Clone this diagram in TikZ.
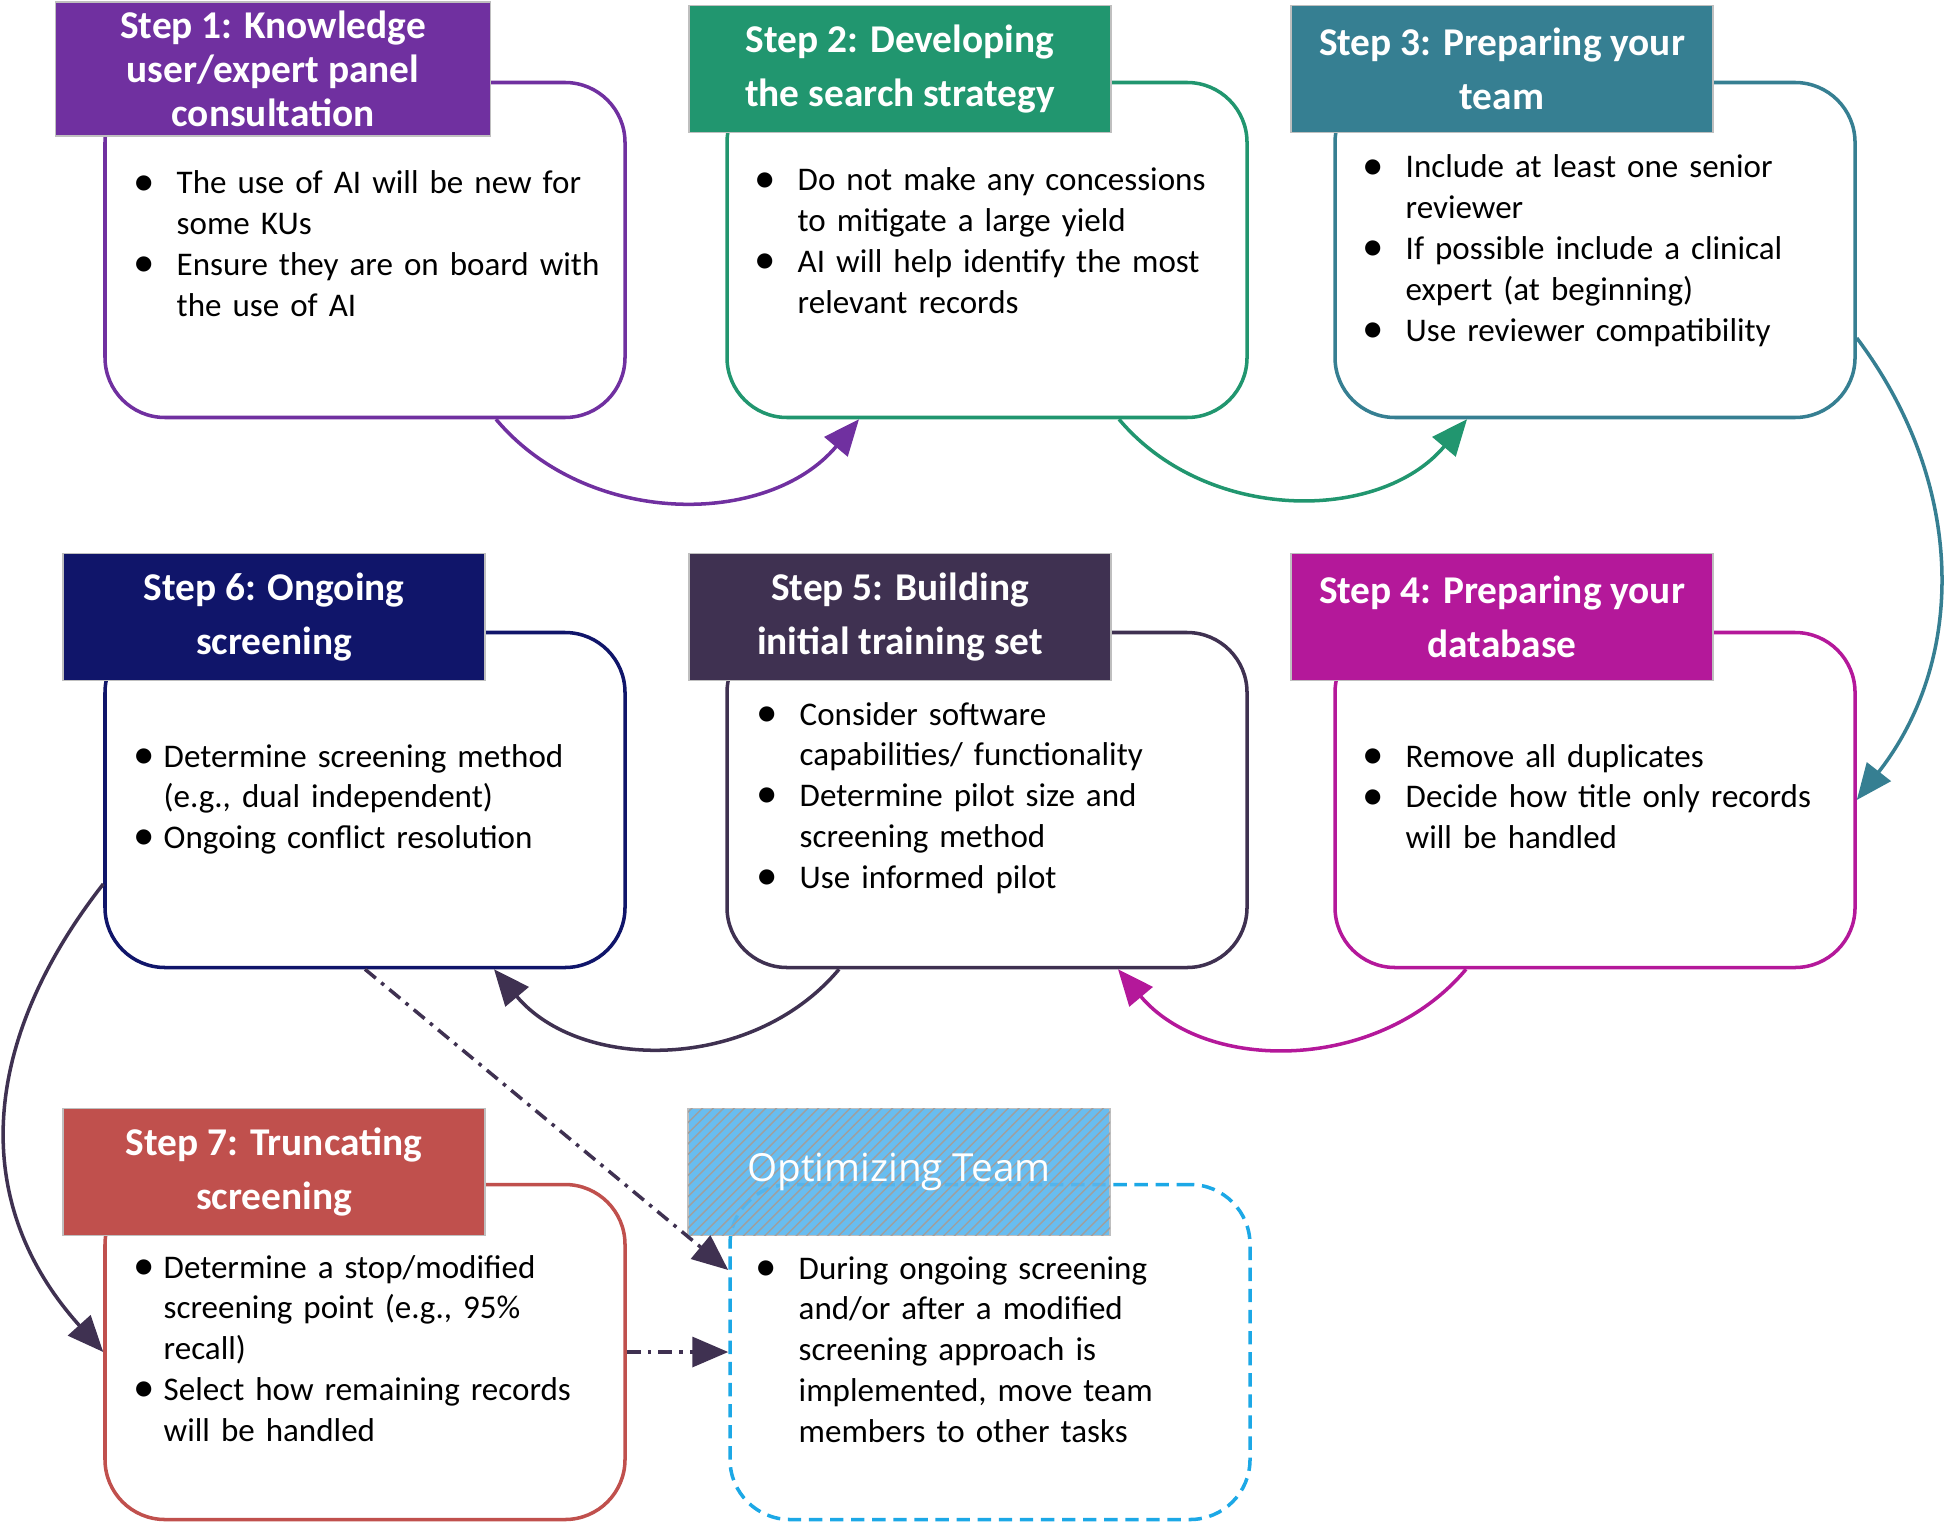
\documentclass[tikz,border=0pt]{standalone}
\usepackage{fontspec}
\setmainfont{Carlito}
\newfontfamily\optfont{Open Sans}
\usetikzlibrary{arrows.meta,patterns}
\definecolor{KUPurple}{HTML}{7030A0}
\definecolor{SearchGreen}{HTML}{21966F}
\definecolor{TeamTeal}{HTML}{367F92}
\definecolor{DataMagenta}{HTML}{B4189A}
\definecolor{TrainPlum}{HTML}{3F3151}
\definecolor{ScreenNavy}{HTML}{10156A}
\definecolor{TruncRed}{HTML}{C0504D}
\definecolor{OptBlue}{HTML}{58B6EE}
\definecolor{OptLine}{HTML}{1CA8E6}
\newcommand{\bulletgap}{0.43cm}
\newcommand{\bpoint}[1]{\hangindent=\bulletgap\hangafter=1\noindent\makebox[\bulletgap][l]{\raisebox{-0.04em}{\scalebox{1.3}{\textbullet}}}#1\par}

\begin{document}
\begin{tikzpicture}[x=1cm,y=1cm,
  stepbody/.style={draw,line width=1pt,rounded corners=0.6cm,minimum width=5.2cm,minimum height=3.35cm,inner sep=0pt},
  stephead/.style={draw=gray!50,line width=0.5pt,text=white,align=center,inner sep=0pt,
    minimum width=4.22cm,minimum height=1.27cm,font=\bfseries\fontsize{11.2}{15.5}\selectfont},
  steptext/.style={anchor=base west,inner sep=0pt,text width=5.5cm,align=left,font=\fontsize{9.4}{11.6}\selectfont},
  steptight/.style={steptext,execute at begin node={\renewcommand{\bulletgap}{0.30cm}}},
  flowarrow/.style={line width=1pt,-{Triangle[length=0.36cm,width=0.3cm]}},
  sidearrow/.style={flowarrow,TrainPlum,dash pattern=on 4pt off 2pt on 1pt off 2pt}]
\path[use as bounding box] (0,0) rectangle (19.44,15.26);
% step bodies
\node[stepbody,draw=KUPurple] (s1body) at (3.65,12.76) {};
\node[stepbody,draw=SearchGreen] (s2body) at (9.87,12.76) {};
\node[stepbody,draw=TeamTeal] (s3body) at (15.95,12.76) {};
\node[stepbody,draw=ScreenNavy] (s6body) at (3.65,7.26) {};
\node[stepbody,draw=TrainPlum] (s5body) at (9.87,7.26) {};
\node[stepbody,draw=DataMagenta] (s4body) at (15.95,7.26) {};
\node[stepbody,draw=TruncRed] (s7body) at (3.65,1.74) {};
\node[stepbody,draw=OptLine,dash pattern=on 3.8pt off 2.2pt] (optbody) at (9.90,1.74) {};
% headers
\node[stephead,fill=KUPurple,minimum width=4.35cm,minimum height=1.34cm,
  font=\bfseries\fontsize{11.2}{12.5}\selectfont] (s1head) at (2.73,14.57) {Step 1: Knowledge\\user/expert panel\\consultation};
\node[stephead,fill=SearchGreen] (s2head) at (9.00,14.57) {Step 2: Developing\\the search strategy};
\node[stephead,fill=TeamTeal] (s3head) at (15.02,14.57) {Step 3: Preparing your\\team};
\node[stephead,fill=ScreenNavy] (s6head) at (2.74,9.09) {Step 6: Ongoing\\screening};
\node[stephead,fill=TrainPlum] (s5head) at (9.00,9.09) {Step 5: Building\\initial training set};
\node[stephead,fill=DataMagenta] (s4head) at (15.02,9.09) {Step 4: Preparing your\\database};
\node[stephead,fill=TruncRed] (s7head) at (2.74,3.54) {Step 7: Truncating\\screening};
\node[stephead,fill=OptBlue,fill opacity=0.9,text opacity=1,
  postaction={pattern=north east lines,pattern color=gray!75},
  font=\optfont\fontsize{11}{13}\selectfont] (opthead) at (8.99,3.54) {Optimizing Team};
% bullet texts
\node[steptext] (s1txt) at (1.33,13.32) {\bpoint{The use of AI will be new for\newline some KUs}\bpoint{Ensure they are on board with\newline the use of AI}};
\node[steptext] (s2txt) at (7.54,13.35) {\bpoint{Do not make any concessions\newline to mitigate a large yield}\bpoint{AI will help identify the most\newline relevant records}};
\node[steptext] (s3txt) at (13.62,13.48) {\bpoint{Include at least one senior\newline reviewer}\bpoint{If possible include a clinical\newline expert (at beginning)}\bpoint{Use reviewer compatibility}};
\node[steptight] (s6txt) at (1.33,7.59) {\bpoint{Determine screening method\newline (e.g., dual independent)}\bpoint{Ongoing conflict resolution}};
\node[steptext] (s5txt) at (7.56,8.01) {\bpoint{Consider software\newline capabilities/ functionality}\bpoint{Determine pilot size and\newline screening method}\bpoint{Use informed pilot}};
\node[steptext] (s4txt) at (13.62,7.59) {\bpoint{Remove all duplicates}\bpoint{Decide how title only records\newline will be handled}};
\node[steptight] (s7txt) at (1.33,2.48) {\bpoint{Determine a stop/modified\newline screening point (e.g., 95\%\newline recall)}\bpoint{Select how remaining records\newline will be handled}};
\node[steptext] (opttxt) at (7.55,2.47) {\bpoint{During ongoing screening\newline and/or after a modified\newline screening approach is\newline implemented, move team\newline members to other tasks}};
% flow between steps
\draw[flowarrow,KUPurple] ([xshift=1.31cm]s1body.south) to[out=-50,in=-130] ([xshift=-1.28cm]s2body.south);
\draw[flowarrow,SearchGreen] ([xshift=1.32cm]s2body.south) to[out=-50,in=-130] ([xshift=-1.28cm]s3body.south);
\draw[flowarrow,TeamTeal] ([yshift=-0.88cm]s3body.east) to[out=-53,in=52] (s4body.east);
\draw[flowarrow,DataMagenta] ([xshift=-1.29cm]s4body.south) to[out=-130,in=-50] ([xshift=1.31cm]s5body.south);
\draw[flowarrow,TrainPlum] ([xshift=-1.48cm]s5body.south) to[out=-130,in=-50] ([xshift=1.29cm]s6body.south);
\draw[flowarrow,TrainPlum] ([yshift=-0.84cm]s6body.west) to[out=-128,in=132,looseness=1.1] (s7body.west);
\draw[sidearrow] (s6body.south) -- ([yshift=0.82cm]optbody.west);
\draw[sidearrow] (s7body.east) -- (optbody.west);
\end{tikzpicture}
\end{document}
